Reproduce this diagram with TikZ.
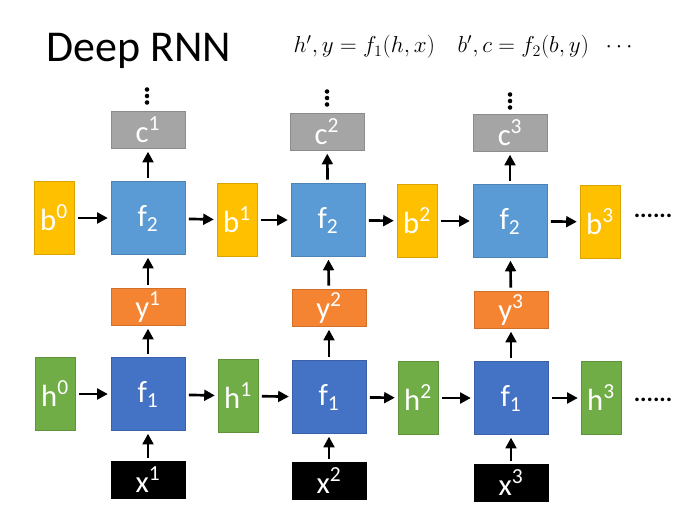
\documentclass[tikz,border=0pt]{standalone}
\usepackage{amsmath}
\usepackage{fontspec}
\setmainfont{Carlito}
\usepackage{tikz}
\usetikzlibrary{arrows.meta}
\definecolor{bcol}{RGB}{255,192,0}
\definecolor{fbcol}{RGB}{91,155,213}
\definecolor{fhcol}{RGB}{68,114,196}
\definecolor{ycol}{RGB}{245,132,50}
\definecolor{hcol}{RGB}{112,173,71}
\definecolor{ccol}{RGB}{165,165,165}
\tikzset{
  cell/.style={rectangle, inner sep=0pt, line width=0.7pt, text=white,
    font=\fontsize{23}{23}\selectfont},
  fcell/.style={cell, minimum width=55.5pt, minimum height=54.75pt},
  ocell/.style={cell, minimum width=55.5pt, minimum height=27.75pt},
  scell/.style={cell, minimum width=30pt, minimum height=54.75pt},
  flow/.style={-{Triangle[length=8pt,width=8pt]}, line width=2pt,
    shorten <=2.5pt, shorten >=2pt}
}
\newcommand{\rnnnode}[4] {\node at (#1) (#2) [#3] {#4};}
\newcommand{\rnnflow}[2] {\draw [flow] (#1) -- (#2);}
\newcommand{\rnnvdots}[1] {\fill (#1) ++(0,-6.5) circle (1.7pt) ++(0,6.5) circle (1.7pt) ++(0,6.5) circle (1.7pt);}

\begin{document}
\begin{tikzpicture}[x=0.75pt,y=-0.75pt]
\useasboundingbox (0,0) rectangle (688,506);

\node at (42,51) (title) [anchor=west, font=\fontsize{33}{33}\selectfont] {Deep RNN};
\node at (465,47) (eqn) [font=\fontsize{17}{17}\selectfont] {$h',y=f_1(h,x)\quad b',c=f_2(b,y)\;\;\cdots$};

% upper layer
\rnnnode {54,218}{b0}{scell, fill=bcol, draw=bcol!85!black}{b\textsuperscript{0}}
\rnnnode {237,220}{b1}{scell, fill=bcol, draw=bcol!85!black}{b\textsuperscript{1}}
\rnnnode {417,221}{b2}{scell, fill=bcol, draw=bcol!85!black}{b\textsuperscript{2}}
\rnnnode {600,222}{b3}{scell, fill=bcol, draw=bcol!85!black}{b\textsuperscript{3}}
\rnnnode {148,218}{ftwoa}{fcell, fill=fbcol, draw=fbcol!85!black}{f\textsubscript{2}}
\rnnnode {328,220}{ftwob}{fcell, fill=fbcol, draw=fbcol!85!black}{f\textsubscript{2}}
\rnnnode {510,221}{ftwoc}{fcell, fill=fbcol, draw=fbcol!85!black}{f\textsubscript{2}}
\rnnnode {148,130}{c1}{ocell, fill=ccol, draw=ccol!85!black}{c\textsuperscript{1}}
\rnnnode {327,132}{c2}{ocell, fill=ccol, draw=ccol!85!black}{c\textsuperscript{2}}
\rnnnode {510,133}{c3}{ocell, fill=ccol, draw=ccol!85!black}{c\textsuperscript{3}}
\rnnnode {148,307}{y1}{ocell, fill=ycol, draw=ycol!85!black}{y\textsuperscript{1}}
\rnnnode {329,308}{y2}{ocell, fill=ycol, draw=ycol!85!black}{y\textsuperscript{2}}
\rnnnode {511,310}{y3}{ocell, fill=ycol, draw=ycol!85!black}{y\textsuperscript{3}}

% lower layer
\rnnnode {55,394}{h0}{scell, fill=hcol, draw=hcol!85!black}{h\textsuperscript{0}}
\rnnnode {238,396}{h1}{scell, fill=hcol, draw=hcol!85!black}{h\textsuperscript{1}}
\rnnnode {418,398}{h2}{scell, fill=hcol, draw=hcol!85!black}{h\textsuperscript{2}}
\rnnnode {601,398}{h3}{scell, fill=hcol, draw=hcol!85!black}{h\textsuperscript{3}}
\rnnnode {148,394}{fonea}{fcell, fill=fhcol, draw=fhcol!85!black}{f\textsubscript{1}}
\rnnnode {329,397}{foneb}{fcell, fill=fhcol, draw=fhcol!85!black}{f\textsubscript{1}}
\rnnnode {511,398}{fonec}{fcell, fill=fhcol, draw=fhcol!85!black}{f\textsubscript{1}}
\rnnnode {148,480}{x1}{ocell, fill=black, draw=black}{x\textsuperscript{1}}
\rnnnode {329,481}{x2}{ocell, fill=black, draw=black}{x\textsuperscript{2}}
\rnnnode {511,483}{x3}{ocell, fill=black, draw=black}{x\textsuperscript{3}}

% continuation marks
\coordinate (vda) at (147,96);
\coordinate (vdb) at (327,98);
\coordinate (vdc) at (510,101);
\rnnvdots {vda}
\rnnvdots {vdb}
\rnnvdots {vdc}
\node at (653,216) (more1) [font=\fontsize{18}{18}\bfseries] {......};
\node at (653,400) (more2) [font=\fontsize{18}{18}\bfseries] {......};

\rnnflow {b0}{ftwoa}
\rnnflow {ftwoa}{b1}
\rnnflow {b1}{ftwob}
\rnnflow {ftwob}{b2}
\rnnflow {b2}{ftwoc}
\rnnflow {ftwoc}{b3}
\rnnflow {h0}{fonea}
\rnnflow {fonea}{h1}
\rnnflow {h1}{foneb}
\rnnflow {foneb}{h2}
\rnnflow {h2}{fonec}
\rnnflow {fonec}{h3}
\rnnflow {x1}{fonea}
\rnnflow {x2}{foneb}
\rnnflow {x3}{fonec}
\rnnflow {fonea}{y1}
\rnnflow {foneb}{y2}
\rnnflow {fonec}{y3}
\rnnflow {y1}{ftwoa}
\rnnflow {y2}{ftwob}
\rnnflow {y3}{ftwoc}
\rnnflow {ftwoa}{c1}
\rnnflow {ftwob}{c2}
\rnnflow {ftwoc}{c3}
\end{tikzpicture}
\end{document}
